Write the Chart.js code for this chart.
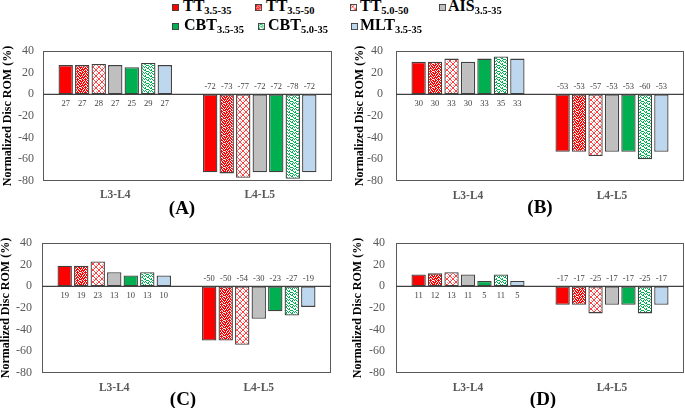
<!DOCTYPE html>
<html><head><meta charset="utf-8">
<script src="https://cdn.jsdelivr.net/npm/chart.js@4/dist/chart.umd.min.js"></script>
<style>
body{margin:0;width:685px;height:408px;background:#fff;position:relative;overflow:hidden;font-family:"Liberation Serif","Times New Roman",serif;}
.cv{position:absolute;}
.lg{position:absolute;font-weight:bold;font-size:16px;line-height:16px;color:#000;white-space:nowrap}
.lg sub{font-size:10.5px;vertical-align:baseline;position:relative;top:3px}
.sw{position:absolute;width:7px;height:7px}
.pl{position:absolute;font-weight:bold;font-size:19px;line-height:19px;transform:translate(-50%,-50%);color:#000}
</style></head><body>
<div id="legend"></div>
<script>
// ---------- DATA ----------
const categories = ['L3-L4', 'L4-L5'];
const seriesNames = ['TT', 'TT', 'TT', 'AIS', 'CBT', 'CBT', 'MLT'];
const seriesSubs  = ['3.5-35', '3.5-50', '5.0-50', '3.5-35', '3.5-35', '5.0-35', '3.5-35'];

const panelA_L3L4 = [27, 27, 28, 27, 25, 29, 27];
const panelA_L4L5 = [-72, -73, -77, -72, -72, -78, -72];
const panelB_L3L4 = [30, 30, 33, 30, 33, 35, 33];
const panelB_L4L5 = [-53, -53, -57, -53, -53, -60, -53];
const panelC_L3L4 = [19, 19, 23, 13, 10, 13, 10];
const panelC_L4L5 = [-50, -50, -54, -30, -23, -27, -19];
const panelD_L3L4 = [11, 12, 13, 11, 5, 11, 5];
const panelD_L4L5 = [-17, -17, -25, -17, -17, -25, -17];

const panelLabels = ['(A)', '(B)', '(C)', '(D)'];
const yMin = -80, yMax = 40, yStep = 20;
const yTitle = 'Normalized Disc ROM (%)';

// ---------- STYLES ----------
function tile(w, h, fn) { const c = document.createElement('canvas'); c.width = w; c.height = h; const x = c.getContext('2d'); fn(x); return c; }
function mkPattern(kind) {
  let t;
  if (kind === 'redDots') {
    const holes = [[1,4,6],[3,7],[0,2,5],[4,6],[1,3,7],[0,5],[2,4,6],[0,3,7]];
    t = tile(8, 8, x => { x.fillStyle = '#ff0000'; x.fillRect(0,0,8,8); x.fillStyle = '#fff';
      holes.forEach((row, r) => row.forEach(c => x.fillRect(c, r, 1, 1)));
      x.fillStyle = '#ff9a9a'; [[5,1],[2,3],[6,5],[1,7]].forEach(p => x.fillRect(p[0], p[1], 1, 1)); });
  } else if (kind === 'redLattice') {
    t = tile(6, 6, x => { x.fillStyle = '#ffffff'; x.fillRect(0,0,6,6); x.fillStyle = '#ff4040';
      for (let i = 0; i < 6; i++) { x.fillRect(i, i, 1, 1); x.fillRect(5 - i, i, 1, 1); }
      x.fillStyle = '#ff9a9a'; x.fillRect(3,0,1,1); x.fillRect(0,3,1,1); });
  } else if (kind === 'greenDots') {
    t = tile(6, 6, x => { x.fillStyle = '#ffffff'; x.fillRect(0,0,6,6); x.fillStyle = '#00b050';
      [[0,0],[1,0],[3,1],[4,1],[1,2],[5,2],[0,3],[2,3],[3,4],[4,4],[1,5],[5,5],[2,1],[4,3]].forEach(p => x.fillRect(p[0], p[1], 1, 1)); });
  }
  return document.createElement('canvas').getContext('2d').createPattern(t, 'repeat');
}
const seriesFill = ['#ff0000', mkPattern('redDots'), mkPattern('redLattice'), '#bfbfbf', '#00b050', mkPattern('greenDots'), '#bdd7ee'];
const barBorder = '#404040';

// ---------- LEGEND ----------
const legendPos = [[172,183,-2],[255,266,-2],[350,360,-2],[439,448,-2],[172,184,17],[258,268,17],[351,360,17]];
const lg = document.getElementById('legend');
seriesNames.forEach((n, i) => {
  const p = legendPos[i];
  const sw = document.createElement('canvas'); sw.width = 8; sw.height = 8; sw.className = 'sw';
  sw.style.left = p[0] + 'px'; sw.style.top = (p[2] + 6) + 'px';
  const sx = sw.getContext('2d'); sx.fillStyle = seriesFill[i]; sx.fillRect(0,0,8,8);
  sx.strokeStyle = barBorder; sx.lineWidth = 1; sx.strokeRect(0.5,0.5,7,7);
  lg.appendChild(sw);
  const d = document.createElement('div'); d.className = 'lg';
  d.style.left = p[1] + 'px'; d.style.top = p[2] + 'px';
  d.innerHTML = n + '<sub>' + seriesSubs[i] + '</sub>';
  lg.appendChild(d);
});

// ---------- PLUGINS ----------
const framePlugin = {
  id: 'frame',
  beforeDatasetsDraw(chart) {
    const a = chart.chartArea, c = chart.ctx;
    c.save(); c.strokeStyle = '#595959'; c.lineWidth = 1;
    c.strokeRect(Math.round(a.left) + 0.5, Math.round(a.top) + 0.5, Math.round(a.right - a.left) - 1, Math.round(a.bottom - a.top) - 1);
    c.restore();
  },
  afterDatasetsDraw(chart) {
    const a = chart.chartArea, c = chart.ctx, ys = chart.scales.y;
    const z = ys.getPixelForValue(0);
    c.save(); c.strokeStyle = '#404040'; c.lineWidth = 1.3;
    c.beginPath(); c.moveTo(a.left, z); c.lineTo(a.right, z); c.stroke();
    c.fillStyle = '#404040'; c.font = '8.5px "Liberation Serif"'; c.textAlign = 'center'; c.textBaseline = 'middle';
    chart.data.datasets.forEach((ds, di) => {
      chart.getDatasetMeta(di).data.forEach((el, j) => {
        const v = ds.data[j];
        c.fillText(String(v), el.x, v >= 0 ? z + 9 : z - 8);
      });
    });
    c.restore();
  }
};

// ---------- PANELS ----------
const panelData = [[panelA_L3L4, panelA_L4L5], [panelB_L3L4, panelB_L4L5], [panelC_L3L4, panelC_L4L5], [panelD_L3L4, panelD_L4L5]];
const layouts = [
  {left:0,   top:40,  w:345, h:185, yW:43, padR:13, padT:11, xH:44, tPad:2, tickPad:9,  catPad:7, lx:182, ly:207},
  {left:345, top:40,  w:340, h:185, yW:51, padR:1,  padT:11, xH:44, tPad:9, tickPad:13, catPad:8, lx:540, ly:206},
  {left:0,   top:225, w:345, h:183, yW:42, padR:14, padT:18, xH:35, tPad:0, tickPad:10, catPad:8, lx:183, ly:398},
  {left:345, top:225, w:340, h:183, yW:51, padR:1,  padT:18, xH:35, tPad:7, tickPad:11, catPad:8, lx:543, ly:398}
];

panelData.forEach((pd, k) => {
  const L = layouts[k];
  const cv = document.createElement('canvas'); cv.className = 'cv';
  cv.style.left = L.left + 'px'; cv.style.top = L.top + 'px';
  cv.style.width = L.w + 'px'; cv.style.height = L.h + 'px';
  cv.width = L.w; cv.height = L.h;
  document.body.appendChild(cv);
  const pl = document.createElement('div'); pl.className = 'pl';
  pl.style.left = L.lx + 'px'; pl.style.top = L.ly + 'px'; pl.textContent = panelLabels[k];
  document.body.appendChild(pl);

  const datasets = seriesNames.map((n, i) => ({
    label: n + ' ' + seriesSubs[i],
    data: [pd[0][i], pd[1][i]],
    backgroundColor: seriesFill[i],
    borderColor: barBorder,
    borderWidth: 1.3,
    borderSkipped: false,
    barPercentage: 0.87,
    categoryPercentage: 0.8
  }));

  new Chart(cv, {
    type: 'bar',
    data: { labels: categories, datasets },
    plugins: [framePlugin],
    options: {
      responsive: false, animation: false, devicePixelRatio: 1,
      layout: { padding: { top: L.padT, right: L.padR, left: 0, bottom: 0 } },
      plugins: { legend: { display: false }, tooltip: { enabled: false } },
      scales: {
        x: {
          grid: { display: false, drawTicks: false }, border: { display: false },
          ticks: { color: '#595959', padding: L.catPad, font: { family: 'Liberation Serif', size: 11.5, weight: 'bold' } },
          afterFit(s) { s.height = L.xH; s.paddingLeft = 0; s.paddingRight = 0; }
        },
        y: {
          min: yMin, max: yMax,
          grid: { display: false, drawTicks: false }, border: { display: false },
          ticks: { stepSize: yStep, color: '#595959', padding: L.tickPad, font: { family: 'Liberation Serif', size: 12 } },
          title: { display: true, text: yTitle, color: '#000', padding: { top: L.tPad, bottom: 0 }, font: { family: 'Liberation Serif', size: 12, weight: 'bold', lineHeight: 1 } },
          afterFit(s) { s.width = L.yW; s.paddingTop = 0; s.paddingBottom = 0; }
        }
      }
    }
  });
});
</script>
</body></html>
